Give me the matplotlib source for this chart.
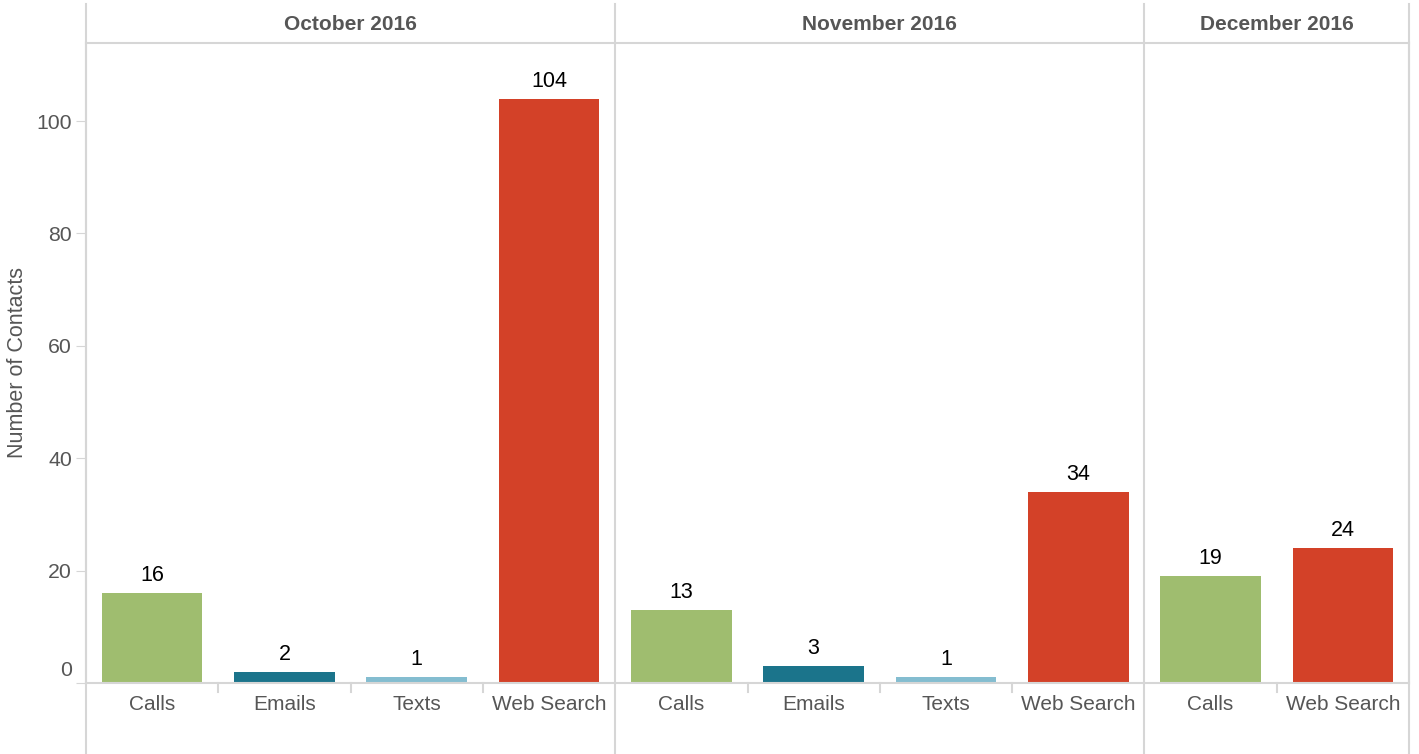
import matplotlib
matplotlib.use("Agg")
import matplotlib.pyplot as plt
import matplotlib.transforms as mtransforms
import numpy as np

# data
months = ["October 2016", "November 2016", "December 2016"]
oct_types = ["Calls", "Emails", "Texts", "Web Search"]
oct_vals = [16, 2, 1, 104]
nov_types = ["Calls", "Emails", "Texts", "Web Search"]
nov_vals = [13, 3, 1, 34]
dec_types = ["Calls", "Web Search"]
dec_vals = [19, 24]
y_ticks = [0, 20, 40, 60, 80, 100]

colors = {"Calls": "#9fbd6f", "Emails": "#1b748b", "Texts": "#84bdd0", "Web Search": "#d34128"}

plt.rcParams["font.family"] = ["Liberation Sans", "DejaVu Sans"]
line_c = "#d6d6d6"
text_c = "#565656"

W, H = 1419, 754
fig = plt.figure(figsize=(W / 100, H / 100), dpi=100)
ax_l, ax_r, ax_t, ax_b = 86, 1409, 43, 683
ax = fig.add_axes([ax_l / W, (H - ax_b) / H, (ax_r - ax_l) / W, (ax_b - ax_t) / H])
ax_h = ax_b - ax_t

# flatten panels into one row of slots
groups = [oct_types, nov_types, dec_types]
values = [oct_vals, nov_vals, dec_vals]
types, vals, centers, bounds = [], [], [], []
pos = 0
for g, v in zip(groups, values):
    centers.append(pos + (len(g) - 1) / 2)
    types += g
    vals += v
    pos += len(g)
    bounds.append(pos - 0.5)
x = np.arange(len(types))

bars = ax.bar(x, vals, width=0.76, color=[colors[t] for t in types], zorder=2)
for xi, v in zip(x, vals):
    ax.annotate(str(v), (xi, v), xytext=(0, 5), textcoords="offset points",
                ha="center", va="bottom", fontsize=15.5, color="black")

ax.set_xlim(-0.5, len(types) - 0.5)
ax.set_ylim(0, (ax_b - ax_t) / 5.62)
ax.set_yticks(y_ticks)
ax.set_xticks(x)
ax.set_xticklabels(types, fontsize=15, color=text_c)
ax.tick_params(axis="x", length=0, pad=9)
ax.tick_params(axis="y", length=7, color=line_c, labelsize=15.3, labelcolor=text_c, pad=3)
# zero label sits above the baseline
zl = ax.get_yticklabels()[0]
zl.set_transform(zl.get_transform() + mtransforms.ScaledTranslation(0, 14 / 100, fig.dpi_scale_trans))

ax.set_ylabel("Number of Contacts", fontsize=15.5, color=text_c, labelpad=6)

for s in ["top", "bottom", "right", "left"]:
    ax.spines[s].set_color(line_c)
    ax.spines[s].set_linewidth(1.5)

# panel borders running full height
lo = -(H - ax_b) / ax_h
hi = 1 + (ax_t - 4) / ax_h
ax.axvline(-0.5, lo, hi, color=line_c, lw=1.5, clip_on=False)
for b in bounds:
    ax.axvline(b, lo, hi, color=line_c, lw=1.5, clip_on=False)

# small separators between categories
for xi in x[:-1]:
    sep = xi + 0.5
    if sep in bounds:
        continue
    ax.axvline(sep, -9 / ax_h, 0, color=line_c, lw=1.5, clip_on=False)

# month headers
for m, c in zip(months, centers):
    ax.text(c, 1 + 19 / ax_h, m, transform=ax.get_xaxis_transform(),
            ha="center", va="center", fontsize=15, fontweight="bold", color=text_c)

fig.savefig("out.png", dpi=100)
